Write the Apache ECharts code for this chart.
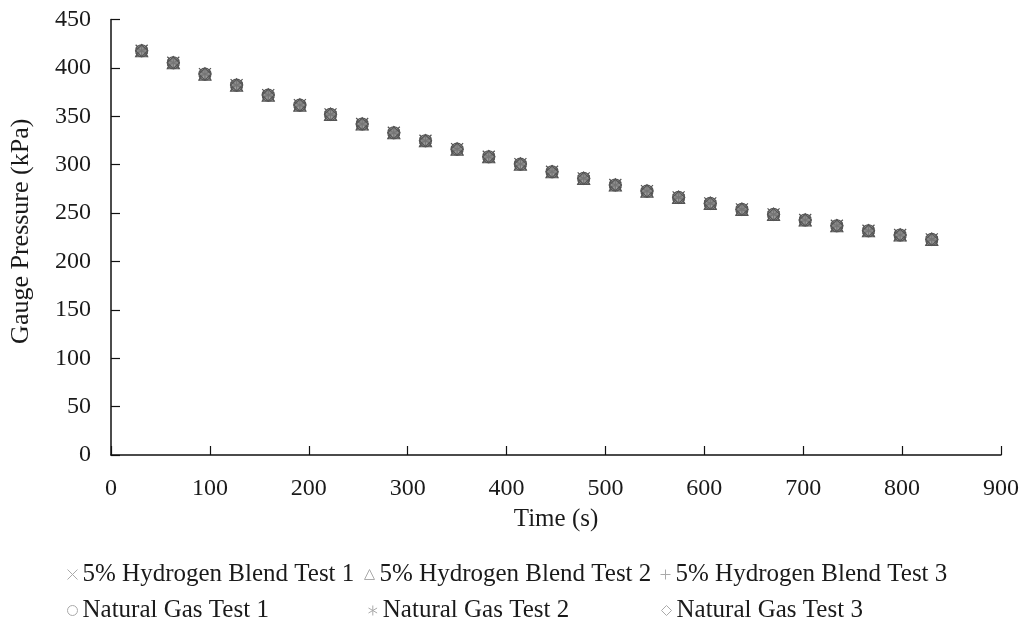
<!DOCTYPE html>
<html>
<head>
<meta charset="utf-8">
<script src="https://cdn.jsdelivr.net/npm/echarts@6/dist/echarts.min.js"></script>
<style>
html,body{margin:0;padding:0;background:#fff;}
#chart{width:1024px;height:619px;}
</style>
</head>
<body>
<div id="chart"></div>
<script>
// Data
var timeSeconds = [31, 63, 95, 127, 159, 191, 222, 254, 286, 318, 350, 382, 414, 446, 478, 510, 542, 574, 606, 638, 670, 702, 734, 766, 798, 830];
var h2BlendTest1 = [417.7, 405.3, 393.6, 382.2, 371.9, 361.6, 352.0, 342.0, 333.0, 324.7, 316.0, 308.2, 300.6, 292.7, 285.8, 279.0, 272.7, 266.2, 260.0, 253.8, 248.6, 242.8, 236.9, 231.7, 227.3, 222.8];
var h2BlendTest2 = [417.7, 405.3, 393.6, 382.2, 371.9, 361.6, 352.0, 342.0, 333.0, 324.7, 316.0, 308.2, 300.6, 292.7, 285.8, 279.0, 272.7, 266.2, 260.0, 253.8, 248.6, 242.8, 236.9, 231.7, 227.3, 222.8];
var h2BlendTest3 = [417.7, 405.3, 393.6, 382.2, 371.9, 361.6, 352.0, 342.0, 333.0, 324.7, 316.0, 308.2, 300.6, 292.7, 285.8, 279.0, 272.7, 266.2, 260.0, 253.8, 248.6, 242.8, 236.9, 231.7, 227.3, 222.8];
var naturalGasTest1 = [417.7, 405.3, 393.6, 382.2, 371.9, 361.6, 352.0, 342.0, 333.0, 324.7, 316.0, 308.2, 300.6, 292.7, 285.8, 279.0, 272.7, 266.2, 260.0, 253.8, 248.6, 242.8, 236.9, 231.7, 227.3, 222.8];
var naturalGasTest2 = [417.7, 405.3, 393.6, 382.2, 371.9, 361.6, 352.0, 342.0, 333.0, 324.7, 316.0, 308.2, 300.6, 292.7, 285.8, 279.0, 272.7, 266.2, 260.0, 253.8, 248.6, 242.8, 236.9, 231.7, 227.3, 222.8];
var naturalGasTest3 = [417.7, 405.3, 393.6, 382.2, 371.9, 361.6, 352.0, 342.0, 333.0, 324.7, 316.0, 308.2, 300.6, 292.7, 285.8, 279.0, 272.7, 266.2, 260.0, 253.8, 248.6, 242.8, 236.9, 231.7, 227.3, 222.8];
var seriesNames = ['5% Hydrogen Blend Test 1', '5% Hydrogen Blend Test 2', '5% Hydrogen Blend Test 3',
                   'Natural Gas Test 1', 'Natural Gas Test 2', 'Natural Gas Test 3'];
var seriesValues = [h2BlendTest1, h2BlendTest2, h2BlendTest3, naturalGasTest1, naturalGasTest2, naturalGasTest3];
var xTicks = {min: 0, max: 900, interval: 100};
var yTicks = {min: 0, max: 450, interval: 50};

var SYM_X = 'path://M0,0L10,10M10,0L0,10';
var SYM_PLUS = 'path://M5,0L5,10M0,5L10,5';
var SYM_AST = 'path://M5,0L5,10M0.7,2.5L9.3,7.5M9.3,2.5L0.7,7.5';
var symbols = [SYM_X, 'triangle', SYM_PLUS, 'circle', SYM_AST, 'diamond'];
var fills = ['none', 'rgba(150,150,150,0.5)', 'none', 'rgba(150,150,150,0.5)', 'none', 'rgba(150,150,150,0.5)'];

var FONT = '"Liberation Serif", "DejaVu Serif", serif';
var TXT = '#1a1a1a';

function pair(i) {
  return timeSeconds.map(function (t, k) { return [t, seriesValues[i][k]]; });
}

var series = seriesNames.map(function (n, i) {
  return {
    name: n,
    type: 'scatter',
    data: pair(i),
    symbol: symbols[i],
    symbolSize: 12,
    itemStyle: {color: fills[i], borderColor: '#555', borderWidth: 1.2, opacity: 1},
    emphasis: {disabled: true}
  };
});

// legend grid positions (one legend per item)
var legendPos = [
  {left: 60, top: 557}, {left: 357, top: 557}, {left: 653, top: 557},
  {left: 60, top: 593}, {left: 361, top: 593}, {left: 654, top: 593}
];
var legends = seriesNames.map(function (n, i) {
  return {
    left: legendPos[i].left,
    top: legendPos[i].top,
    orient: 'horizontal',
    itemWidth: 10,
    itemHeight: 10,
    selectedMode: false,
    textStyle: {fontFamily: FONT, fontSize: 25, color: TXT},
    data: [{name: n, icon: symbols[i], itemStyle: {color: 'none', borderColor: '#aaa', borderWidth: 1}}]
  };
});

var chart = echarts.init(document.getElementById('chart'), null, {renderer: 'canvas'});
chart.setOption({
  backgroundColor: '#fff',
  animation: false,
  grid: {left: 111, right: 23, top: 19.5, bottom: 164, containLabel: false},
  legend: legends,
  xAxis: {
    type: 'value',
    min: xTicks.min, max: xTicks.max, interval: xTicks.interval,
    name: 'Time (s)', nameLocation: 'middle', nameGap: 52,
    nameTextStyle: {fontFamily: FONT, fontSize: 25, color: TXT},
    axisLine: {show: true, lineStyle: {color: '#111', width: 1.5}},
    axisTick: {show: true, inside: true, length: 9, lineStyle: {color: '#111', width: 1.2}},
    axisLabel: {fontFamily: FONT, fontSize: 24, color: TXT, margin: 22},
    splitLine: {show: false}
  },
  yAxis: {
    type: 'value',
    min: yTicks.min, max: yTicks.max, interval: yTicks.interval,
    name: 'Gauge Pressure (kPa)', nameLocation: 'middle', nameGap: 77, nameRotate: 90,
    nameTextStyle: {fontFamily: FONT, fontSize: 26, color: TXT, padding: [0, 0, 0, 12]},
    axisLine: {show: true, lineStyle: {color: '#111', width: 1.5}},
    axisTick: {show: true, inside: true, length: 9, lineStyle: {color: '#111', width: 1.2}},
    axisLabel: {fontFamily: FONT, fontSize: 24, color: TXT, margin: 20},
    splitLine: {show: false}
  },
  series: series
});
</script>
</body>
</html>
